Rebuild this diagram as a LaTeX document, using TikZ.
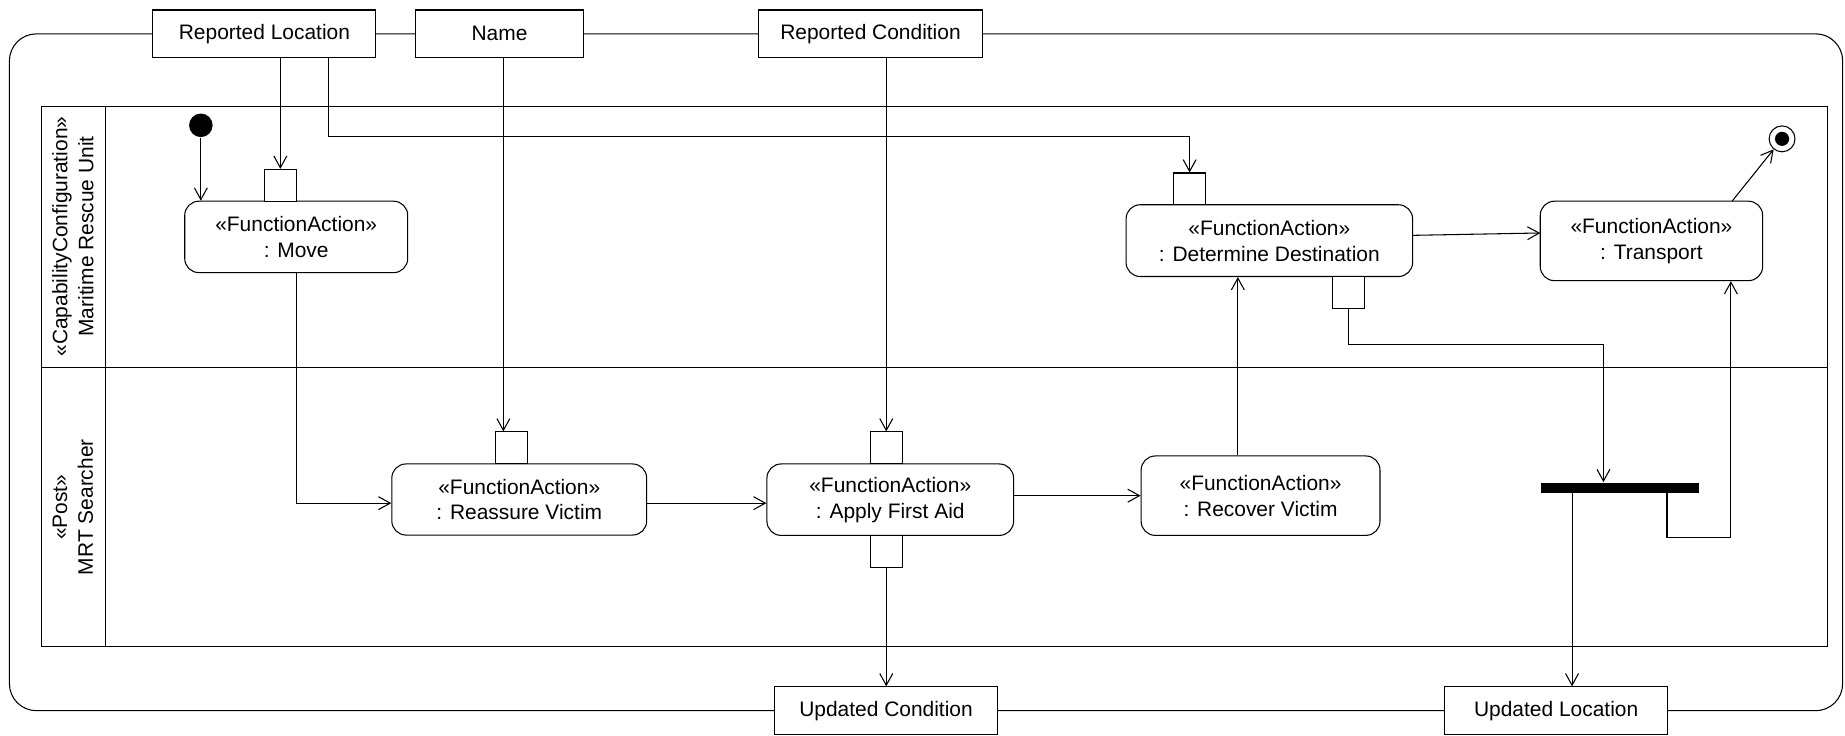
\documentclass[tikz,border=0pt]{standalone}
\usepackage{fontspec}
\setmainfont{Liberation Sans}
\usetikzlibrary{arrows.meta}
\begin{document}
\begin{tikzpicture}[x=1pt,y=-1pt,line width=0.9pt,
  txt/.style={font=\fontsize{17.8}{22}\selectfont},
  objnode/.style={txt,draw,fill=white,rectangle,inner sep=0pt,minimum height=40.5pt},
  actnode/.style={txt,draw,fill=white,rectangle,rounded corners=12pt,inner sep=0pt,align=center},
  pinbox/.style={draw,fill=white,rectangle,inner sep=0pt,minimum width=27pt,minimum height=27pt},
  flow/.style={-{Straight Barb[length=10pt,width=11pt,line width=0.9pt]}},
  lanehead/.style={txt,rotate=90,align=center}]
\useasboundingbox (0,0) rectangle (1568,625);

% activity frame
\draw[rounded corners=23pt] (8,28.75) rectangle (1566,604);

% swimlanes
\draw (35.3,90.7) rectangle (1553,549.6);
\draw (89.4,90.7) -- (89.4,549.6);
\draw (35.3,312) -- (1553,312);
\node[lanehead] (laneA) at (62,201) {«CapabilityConfiguration»\\Maritime Rescue Unit};
\node[lanehead] (laneB) at (62,431) {«Post»\\MRT Searcher};

% parameter nodes on the frame
\node[objnode,minimum width=189.5pt] (rl) at (224.75,28.75) {Reported Location};
\node[objnode,minimum width=142pt] (nm) at (424.5,28.75) {Name};
\node[objnode,minimum width=190pt] (rc) at (739.8,28.75) {Reported Condition};
\node[objnode,minimum width=190pt] (uc) at (753,604) {Updated Condition};
\node[objnode,minimum width=189pt] (ul) at (1322.5,604) {Updated Location};

% actions
\node[actnode,minimum width=189.5pt,minimum height=60.7pt] (move) at (251.75,201.35) {«FunctionAction»\\: Move};
\node[actnode,minimum width=243.5pt,minimum height=61pt] (dd) at (1078.75,204.5) {«FunctionAction»\\: Determine Destination};
\node[actnode,minimum width=189pt,minimum height=67.5pt] (tr) at (1403.5,204.75) {«FunctionAction»\\: Transport};
\node[actnode,minimum width=216.6pt,minimum height=60.4pt] (rv) at (441.3,424.5) {«FunctionAction»\\: Reassure Victim};
\node[actnode,minimum width=209.6pt,minimum height=60.7pt] (afa) at (756.6,424.65) {«FunctionAction»\\: Apply First Aid};
\node[actnode,minimum width=203pt,minimum height=67.5pt] (rec) at (1071.3,421.25) {«FunctionAction»\\: Recover Victim};

% pins
\node[pinbox] (movepin) at (238.25,157.45) {};
\node[pinbox] (ddin) at (1011,160.5) {};
\node[pinbox] (ddout) at (1146,248.5) {};
\node[pinbox] (rvpin) at (434.9,380.6) {};
\node[pinbox] (afain) at (753.2,380.6) {};
\node[pinbox] (afaout) at (753.2,468.5) {};

% control nodes
\node[circle,fill=black,inner sep=0pt,minimum size=20pt] (init) at (170.7,106.5) {};
\node[circle,draw,fill=white,inner sep=0pt,minimum size=22pt] (final) at (1514.5,118) {};
\node[circle,fill=black,inner sep=0pt,minimum size=12pt] (finaldot) at (final) {};
\node[rectangle,fill=black,inner sep=0pt,minimum width=134.7pt,minimum height=8.5pt] (fork) at (1376.65,414.45) {};

% routing points
\coordinate (rlbend) at (279,116);
\coordinate (nmx) at (427.8,49);
\coordinate (mvbend) at (251.75,427.6);
\coordinate (recx) at (1052,0);
\coordinate (ddbend) at (1146,292.6);
\coordinate (forkin) at (1362.7,292.6);
\coordinate (forkout) at (1336,0);
\coordinate (loopA) at (1416.7,456.5);
\coordinate (loopB) at (1471,456.5);

% flows
\draw[flow] (init) -- (init |- move.north);
\draw[flow] (movepin |- rl.south) -- (movepin.north);
\draw[flow] (rlbend |- rl.south) -- (rlbend) -| (ddin.north);
\draw[flow] (nmx) -- (nmx |- rvpin.north);
\draw[flow] (afain |- rc.south) -- (afain.north);
\draw[flow] (move.south) -- (mvbend) -- (mvbend -| rv.west);
\draw[flow] (mvbend -| rv.east) -- (mvbend -| afa.west);
\draw[flow] (rec.west -| afa.east) -- (rec.west);
\draw[flow] (recx |- rec.north) -- (recx |- dd.south);
\draw[flow] (1200.5,200) -- (1309,198);
\draw[flow] (ddout.south) -- (ddbend) -- (forkin) -- (forkin |- fork.north);
\draw[flow] (forkout |- fork.south) -- (forkout |- ul.north);
\draw[flow] (loopA |- fork.south) -- (loopA) -- (loopB) -- (loopB |- tr.south);
\draw[flow] (1472,171) -- (final);
\draw[flow] (afaout.south) -- (afaout.south |- uc.north);
\end{tikzpicture}
\end{document}
